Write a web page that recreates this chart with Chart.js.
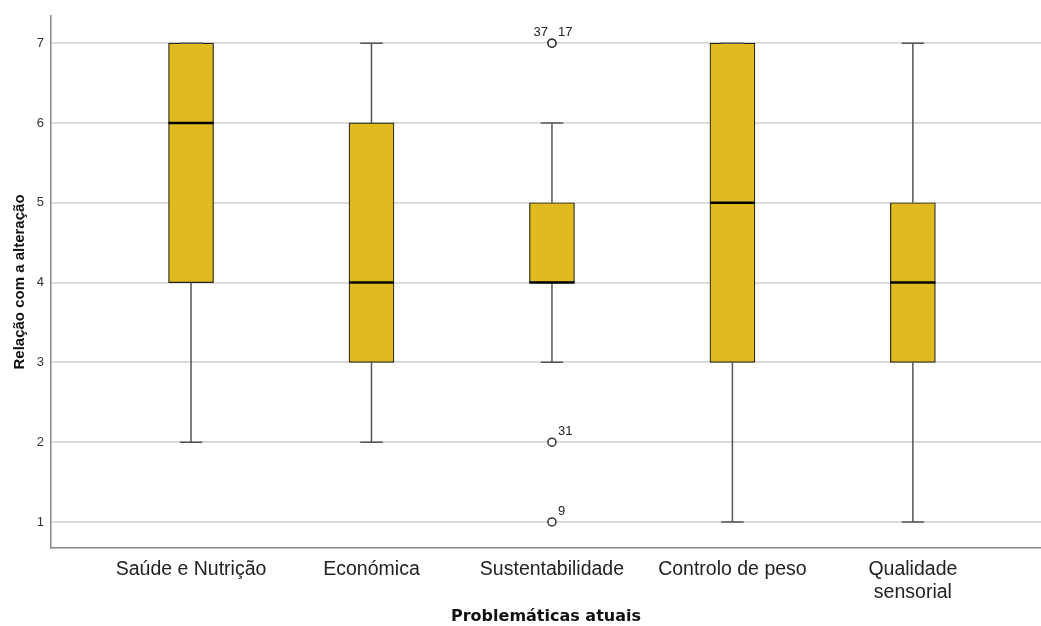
<!DOCTYPE html>
<html>
<head>
<meta charset="utf-8">
<script src="https://cdn.jsdelivr.net/npm/chart.js@4.4.1/dist/chart.umd.min.js"></script>
<style>
    html, body { margin: 0; padding: 0; background: #fff; }
    #wrap { width: 1041px; height: 626px; }
</style>
</head>
<body>
<div id="wrap"><canvas id="chart" width="1041" height="626"></canvas></div>
<script>
// Boxplot summary per category (whisker ends, quartiles, median)
const categories = ['Saúde e Nutrição', 'Económica', 'Sustentabilidade', 'Controlo de peso', ['Qualidade', 'sensorial']];
const minValues = [2, 2, 3, 1, 1];
const q1Values = [4, 3, 4, 3, 3];
const medianValues = [6, 4, 4, 5, 4];
const q3Values = [7, 6, 5, 7, 5];
const maxValues = [7, 7, 6, 7, 7];

// Outliers: category index, value, case label
const outlierCategory = [2, 2, 2, 2];
const outlierValues = [7, 7, 2, 1];
const outlierLabels = ['37', '17', '31', '9'];

const yTicks = [1, 2, 3, 4, 5, 6, 7];

const boxColor = '#e0bb1f';
const lineColor = '#555555';

const boxData = categories.map((c, i) => ({ x: i + 1, y: [q1Values[i], q3Values[i]] }));
const outlierData = outlierValues.map((v, i) => ({ x: outlierCategory[i] + 1, y: v }));

// whiskers, caps, medians and outlier ids
const boxplotPlugin = {
    id: 'boxplotExtras',
    afterDatasetsDraw(chart) {
        const { ctx, scales: { x, y } } = chart;
        const boxMeta = chart.getDatasetMeta(0);
        ctx.save();
        categories.forEach((c, i) => {
            const bar = boxMeta.data[i];
            const cx = x.getPixelForValue(i + 1);
            const half = bar.width / 2;
            const capHalf = half / 2;
            const yMin = y.getPixelForValue(minValues[i]);
            const yMax = y.getPixelForValue(maxValues[i]);
            const yQ1 = y.getPixelForValue(q1Values[i]);
            const yQ3 = y.getPixelForValue(q3Values[i]);

            ctx.strokeStyle = lineColor;
            ctx.lineWidth = 1.5;
            ctx.beginPath();
            if (yMax < yQ3) {
                ctx.moveTo(cx, yQ3);
                ctx.lineTo(cx, yMax);
            }
            if (yMin > yQ1) {
                ctx.moveTo(cx, yQ1);
                ctx.lineTo(cx, yMin);
            }
            ctx.moveTo(cx - capHalf, yMax);
            ctx.lineTo(cx + capHalf, yMax);
            ctx.moveTo(cx - capHalf, yMin);
            ctx.lineTo(cx + capHalf, yMin);
            ctx.stroke();

            const yMed = y.getPixelForValue(medianValues[i]);
            ctx.strokeStyle = '#000';
            ctx.lineWidth = 2.5;
            ctx.beginPath();
            ctx.moveTo(cx - half, yMed);
            ctx.lineTo(cx + half, yMed);
            ctx.stroke();
        });

        // case numbers next to the outliers; a repeated value gets its label on the left
        ctx.font = '13px "Liberation Sans", Arial, sans-serif';
        ctx.fillStyle = '#222';
        ctx.textBaseline = 'bottom';
        const seen = {};
        outlierValues.forEach((v, i) => {
            const key = outlierCategory[i] + ':' + v;
            const px = x.getPixelForValue(outlierCategory[i] + 1);
            const py = y.getPixelForValue(v);
            const dup = outlierValues.some((w, j) => j !== i && w === v && outlierCategory[j] === outlierCategory[i]);
            if (dup && !seen[key]) {
                ctx.textAlign = 'right';
                ctx.fillText(outlierLabels[i], px - 4, py - 4);
            } else {
                ctx.textAlign = 'left';
                ctx.fillText(outlierLabels[i], px + 6, py - 4);
            }
            seen[key] = true;
        });
        ctx.restore();
    }
};

new Chart(document.getElementById('chart').getContext('2d'), {
    type: 'bar',
    data: {
        datasets: [
            {
                label: 'Caixa',
                data: boxData,
                backgroundColor: boxColor,
                borderColor: '#222',
                borderWidth: 1.2,
                borderSkipped: false,
                barThickness: 45,
                order: 2
            },
            {
                type: 'scatter',
                label: 'Outliers',
                data: outlierData,
                pointStyle: 'circle',
                pointRadius: 4,
                backgroundColor: '#fff',
                borderColor: '#333',
                borderWidth: 1.5,
                order: 1
            }
        ]
    },
    options: {
        responsive: false,
        animation: false,
        layout: { autoPadding: false, padding: { top: 16, right: 0, left: 0, bottom: 0 } },
        plugins: {
            legend: { display: false },
            tooltip: { enabled: false }
        },
        scales: {
            x: {
                type: 'linear',
                offset: false,
                min: 0.224,
                max: 5.71,
                afterBuildTicks: (scale) => {
                    scale.ticks = categories.map((c, i) => ({ value: i + 1 }));
                },
                afterFit: (scale) => {
                    scale.height = 78;
                    scale.paddingRight = 0;
                },
                grid: { display: false, drawTicks: false, offset: false },
                border: { display: true, color: '#888', width: 1.5 },
                ticks: {
                    padding: 10,
                    autoSkip: false,
                    maxRotation: 0,
                    color: '#222',
                    font: { family: '"Liberation Sans", Arial, sans-serif', size: 19.5 },
                    callback: (v) => categories[v - 1]
                },
                title: {
                    display: true,
                    text: 'Problemáticas atuais',
                    color: '#111',
                    font: { family: '"DejaVu Sans", sans-serif', size: 16, weight: 'bold' },
                    padding: { top: 0, bottom: 0 }
                }
            },
            y: {
                min: 0.674,
                max: 7.34,
                afterBuildTicks: (scale) => {
                    scale.ticks = yTicks.map((v) => ({ value: v }));
                },
                afterFit: (scale) => { scale.width = 51; },
                grid: { color: '#d6d6d6', lineWidth: 1.8, drawTicks: false },
                border: { display: true, color: '#888', width: 1.5 },
                ticks: {
                    padding: 7,
                    color: '#333',
                    font: { family: '"Liberation Sans", Arial, sans-serif', size: 13 }
                },
                title: {
                    display: true,
                    text: 'Relação com a alteração',
                    color: '#111',
                    font: { family: '"Liberation Sans", Arial, sans-serif', size: 15, weight: 'bold' },
                    padding: { top: 11, bottom: 0 }
                }
            }
        }
    },
    plugins: [boxplotPlugin]
});
</script>
</body>
</html>
